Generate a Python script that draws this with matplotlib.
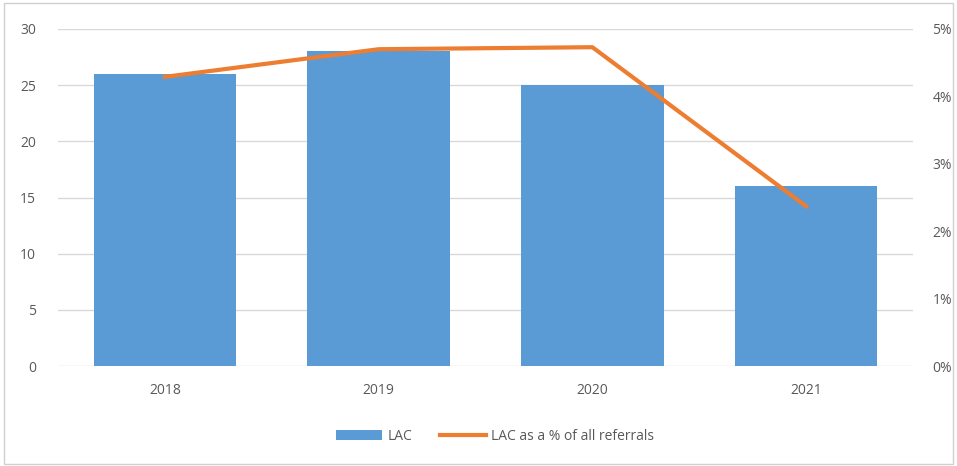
import matplotlib.pyplot as plt
from matplotlib.ticker import FuncFormatter

years = ["2018", "2019", "2020", "2021"]
lac = [26, 28, 25, 16]
lac_pct = [4.29, 4.70, 4.73, 2.37]

bar_color = "#5b9bd5"
line_color = "#ed7d31"
text_color = "#595959"

plt.rcParams["font.family"] = ["Open Sans", "DejaVu Sans"]

fig = plt.figure(figsize=(9.57, 4.66), dpi=100)
ax = fig.add_axes([58 / 957, 1 - 366 / 466, (913 - 58) / 957, (366 - 29) / 466])

x = range(len(years))
bars = ax.bar(x, lac, width=0.667, color=bar_color, label="LAC", zorder=2)
ax.set_xlim(-0.5, len(years) - 0.5)
ax.set_ylim(0, 30)
ax.set_yticks(range(0, 31, 5))
ax.set_xticks(list(x))
ax.set_xticklabels(years)
ax.grid(axis="y", color="#d9d9d9", linewidth=1, zorder=0)
for s in ax.spines.values():
    s.set_visible(False)
ax.tick_params(length=0, colors=text_color, labelsize=10)
ax.tick_params(axis="y", pad=16)
ax.tick_params(axis="x", pad=12)

ax2 = ax.twinx()
line, = ax2.plot(x, lac_pct, color=line_color, linewidth=3, label="LAC as a % of all referrals", zorder=3)
ax2.set_ylim(0, 5)
ax2.set_yticks(range(0, 6))
ax2.yaxis.set_major_formatter(FuncFormatter(lambda v, p: f"{v:.0f}%"))
for s in ax2.spines.values():
    s.set_visible(False)
ax2.tick_params(length=0, colors=text_color, labelsize=10, pad=14)

fig.legend([bars, line], ["LAC", "LAC as a % of all referrals"], loc="center",
           bbox_to_anchor=(495 / 957, 1 - 436 / 466), ncol=2, frameon=False,
           fontsize=10, labelcolor=text_color, handlelength=3.3, handletextpad=0.4,
           columnspacing=2.0)

border = plt.Rectangle((0.004, 0.004), 0.992, 0.99, transform=fig.transFigure,
                       fill=False, edgecolor="#d0d0d0", linewidth=1)
fig.patches.append(border)

fig.savefig("out.png", dpi=100)
